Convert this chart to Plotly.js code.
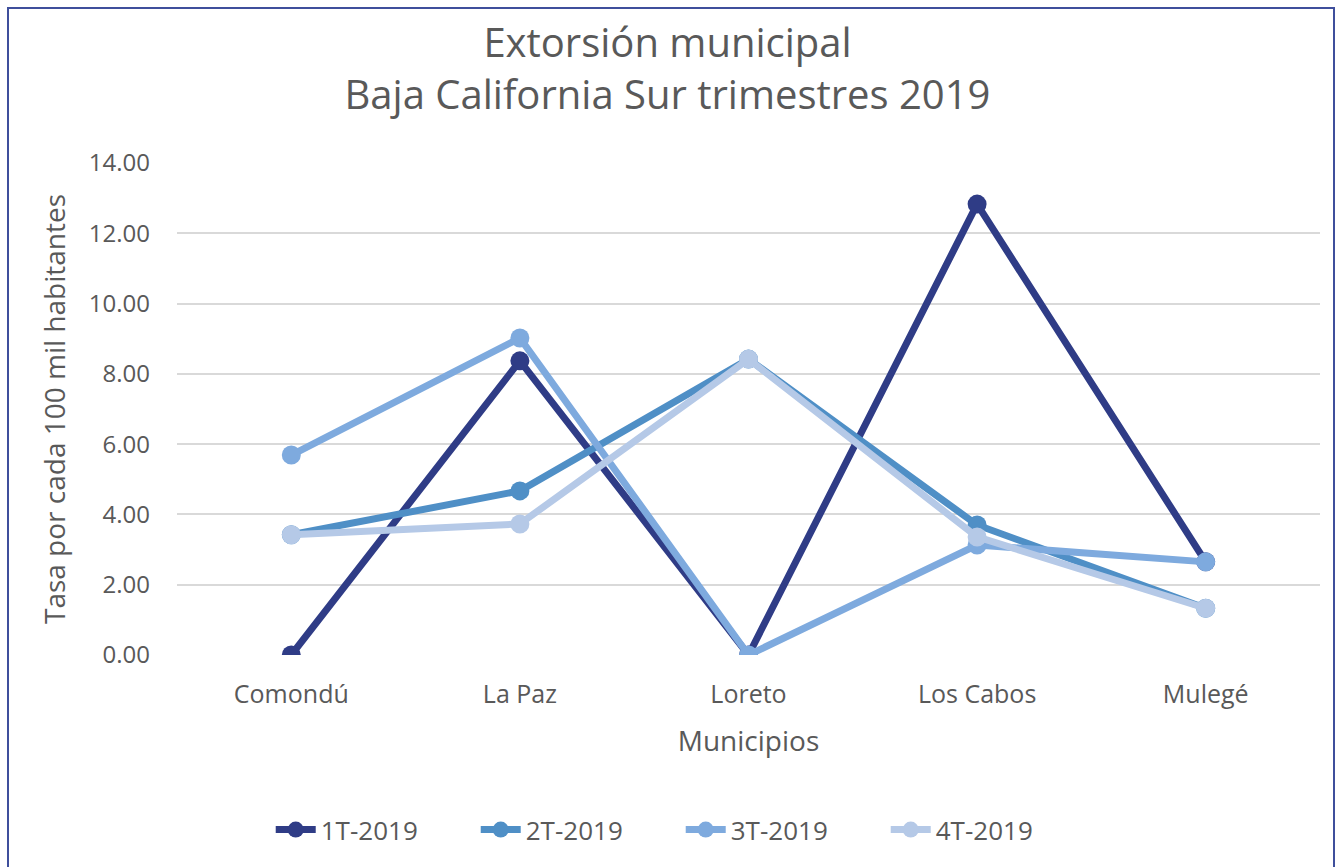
<!DOCTYPE html>
<html>
<head>
<meta charset="utf-8">
<script src="https://cdn.plot.ly/plotly-3.0.1.min.js"></script>
<style>
  body { margin: 0; background: #fff; }
  #chart { width: 1335px; height: 867px; }
  #frame {
    position: absolute; left: 7px; top: 7px; width: 1324px; height: 870px;
    border: 2px solid #3f4f9c; pointer-events: none;
  }
</style>
</head>
<body>
<div id="chart"></div>
<div id="frame"></div>
<script>
// municipios y tasas por trimestre
var municipios = ['Comondú', 'La Paz', 'Loreto', 'Los Cabos', 'Mulegé'];
var t1 = [0.00, 8.37, 0.00, 12.83, 2.65];
var t2 = [3.42, 4.67, 8.42, 3.70, 1.33];
var t3 = [5.69, 9.02, 0.00, 3.13, 2.65];
var t4 = [3.42, 3.73, 8.42, 3.36, 1.33];

var nombres = ['1T-2019', '2T-2019', '3T-2019', '4T-2019'];
var series = [t1, t2, t3, t4];
var colores = ['#2f3c86', '#4f8fc6', '#7eaade', '#b5c9e7'];

var data = [];
for (var i = 0; i < series.length; i++) {
  data.push({
    x: municipios,
    y: series[i],
    name: nombres[i],
    type: 'scatter',
    mode: 'lines+markers',
    line: { color: colores[i], width: 7 },
    marker: { color: colores[i], size: 19 }
  });
}

var gris = '#595959';
var layout = {
  width: 1335,
  height: 867,
  paper_bgcolor: '#fff',
  plot_bgcolor: '#fff',
  font: { family: 'Open Sans, sans-serif', color: gris },
  margin: { l: 177, r: 15, t: 163, b: 212 },
  title: {
    text: 'Extorsión municipal<br>Baja California Sur trimestres 2019',
    font: { size: 40, color: gris },
    x: 0.5, xanchor: 'center',
    yref: 'container',
    y: 0.934, yanchor: 'middle'
  },
  xaxis: {
    type: 'category',
    range: [-0.5, 4.5],
    showgrid: false,
    zeroline: false,
    showline: false,
    ticks: '',
    ticklabelstandoff: 22,
    tickfont: { size: 25, color: gris },
    title: { text: 'Municipios', font: { size: 28, color: gris }, standoff: 22 }
  },
  yaxis: {
    range: [0, 14],
    dtick: 2,
    tickformat: '.2f',
    showgrid: true,
    gridcolor: '#d9d9d9',
    gridwidth: 2,
    zeroline: false,
    showline: false,
    ticks: '',
    ticklabelstandoff: 26,
    tickfont: { size: 24, color: gris },
    title: { text: 'Tasa por cada 100 mil habitantes', font: { size: 28, color: gris }, standoff: 14 }
  },
  showlegend: true,
  legend: {
    orientation: 'h',
    x: 0.082, xanchor: 'left',
    y: -0.355, yanchor: 'middle',
    font: { size: 26, color: gris },
    itemwidth: 40,
    entrywidth: 150,
    entrywidthmode: 'pixels',
    traceorder: 'normal'
  }
};

Plotly.newPlot('chart', data, layout, { displayModeBar: false });
</script>
</body>
</html>
